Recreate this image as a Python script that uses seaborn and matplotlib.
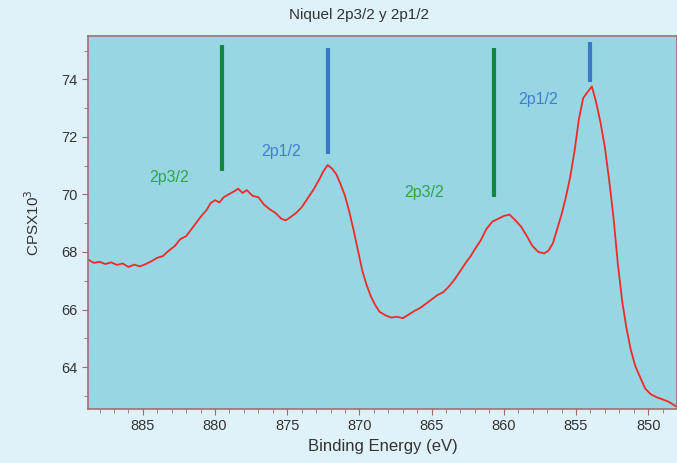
import matplotlib
matplotlib.use("Agg")
import matplotlib.pyplot as plt
import numpy as np
import pandas as pd
import seaborn as sns
from matplotlib.ticker import MultipleLocator

# spectrum (binding energy in eV, counts in CPS x 10^3)
energy = [888.8, 888.4, 888.0, 887.6, 887.2, 886.8, 886.4, 886.0, 885.6, 885.2,
          884.8, 884.4, 884.0, 883.6, 883.2, 882.8, 882.4, 882.0, 881.7, 881.4,
          881.0, 880.6, 880.3, 880.0, 879.7, 879.4, 879.0, 878.7, 878.4, 878.1,
          877.8, 877.4, 877.0, 876.6, 876.2, 875.8, 875.4, 875.1, 874.8, 874.4,
          874.0, 873.6, 873.2, 872.8, 872.5, 872.2, 871.9, 871.6, 871.3, 871.0,
          870.7, 870.4, 870.1, 869.8, 869.5, 869.2, 868.9, 868.6, 868.2, 867.8,
          867.4, 867.0, 866.6, 866.2, 865.8, 865.4, 865.0, 864.6, 864.2, 863.8,
          863.4, 863.0, 862.6, 862.3, 862.0, 861.6, 861.2, 860.8, 860.4, 860.0,
          859.6, 859.2, 858.8, 858.4, 858.0, 857.6, 857.2, 856.9, 856.6, 856.3,
          856.0, 855.7, 855.4, 855.1, 854.8, 854.5, 854.2, 853.9, 853.6, 853.3,
          853.0, 852.7, 852.4, 852.1, 851.8, 851.5, 851.2, 850.9, 850.6, 850.2,
          849.8, 849.4, 849.0, 848.6, 848.2, 848.0]
counts = [67.74, 67.62, 67.66, 67.58, 67.64, 67.55, 67.60, 67.48, 67.56, 67.50,
          67.58, 67.68, 67.80, 67.86, 68.05, 68.20, 68.45, 68.55, 68.75, 68.95,
          69.22, 69.45, 69.70, 69.80, 69.72, 69.90, 70.02, 70.10, 70.20, 70.05,
          70.15, 69.95, 69.90, 69.64, 69.48, 69.35, 69.15, 69.10, 69.20, 69.35,
          69.55, 69.85, 70.15, 70.50, 70.80, 71.02, 70.90, 70.70, 70.35, 69.95,
          69.40, 68.75, 68.05, 67.35, 66.85, 66.45, 66.15, 65.92, 65.80, 65.72,
          65.75, 65.70, 65.82, 65.95, 66.05, 66.20, 66.35, 66.50, 66.60, 66.80,
          67.05, 67.35, 67.65, 67.85, 68.10, 68.40, 68.80, 69.05, 69.15, 69.25,
          69.30, 69.10, 68.88, 68.55, 68.20, 68.00, 67.95, 68.05, 68.30, 68.80,
          69.30, 69.90, 70.60, 71.50, 72.60, 73.35, 73.55, 73.75, 73.20, 72.50,
          71.65, 70.50, 69.20, 67.60, 66.30, 65.35, 64.60, 64.05, 63.70, 63.25,
          63.05, 62.95, 62.88, 62.80, 62.68, 62.62]

# peak markers
marker_pos = [879.5, 872.2, 860.7, 854.0]
marker_low = [70.8, 71.4, 69.9, 73.9]
marker_high = [75.2, 75.1, 75.1, 75.3]
marker_col = ["#13873f", "#3a78c2", "#13873f", "#3a78c2"]

label_text = ["2p3/2", "2p1/2", "2p3/2", "2p1/2"]
label_x = [883.2, 875.4, 865.5, 857.6]
label_y = [70.6, 71.5, 70.05, 73.3]
label_col = ["#2ea54b", "#3f7fcf", "#2ea54b", "#3f7fcf"]

df = pd.DataFrame({"energy": energy, "counts": counts})

sns.set_style("ticks")
plt.rcParams["font.family"] = ["Liberation Sans", "DejaVu Sans"]

fig = plt.figure(figsize=(6.77, 4.63), dpi=100, facecolor="#e0f2f9")
ax = fig.add_axes([0.130, 0.117, 0.870, 0.805])
ax.set_facecolor("#98d6e4")

sns.lineplot(data=df, x="energy", y="counts", color="#ee2a2a", linewidth=1.3,
             ax=ax, estimator=None, sort=False)

for xp, lo, hi, c in zip(marker_pos, marker_low, marker_high, marker_col):
    ax.vlines(xp, lo, hi, color=c, linewidth=3)

for t, xp, yp, c in zip(label_text, label_x, label_y, label_col):
    ax.text(xp, yp, t, color=c, fontsize=11.5, ha="center", va="center")

ax.set_xlim(888.8, 848.0)
ax.set_ylim(62.55, 75.5)
ax.xaxis.set_major_locator(MultipleLocator(5))
ax.xaxis.set_minor_locator(MultipleLocator(1))
ax.yaxis.set_major_locator(MultipleLocator(2))
ax.yaxis.set_minor_locator(MultipleLocator(1))
ax.set_yticks([64, 66, 68, 70, 72, 74])
ax.tick_params(which="both", direction="out", colors="#a06868", labelcolor="#333333",
               labelsize=10.5)
ax.tick_params(which="major", length=4)
ax.tick_params(which="minor", length=3)

for s in ax.spines.values():
    s.set_color("#a07070")
    s.set_linewidth(1.2)

ax.set_xlabel("Binding Energy (eV)", fontsize=12, color="#333333", labelpad=4)
ax.set_ylabel("CPSX10$^3$", fontsize=11, color="#333333", labelpad=14)
fig.text(0.53, 0.967, "Niquel 2p3/2 y 2p1/2", fontsize=11, color="#333333",
         ha="center", va="center")

fig.savefig("out.png", dpi=100, facecolor=fig.get_facecolor())
